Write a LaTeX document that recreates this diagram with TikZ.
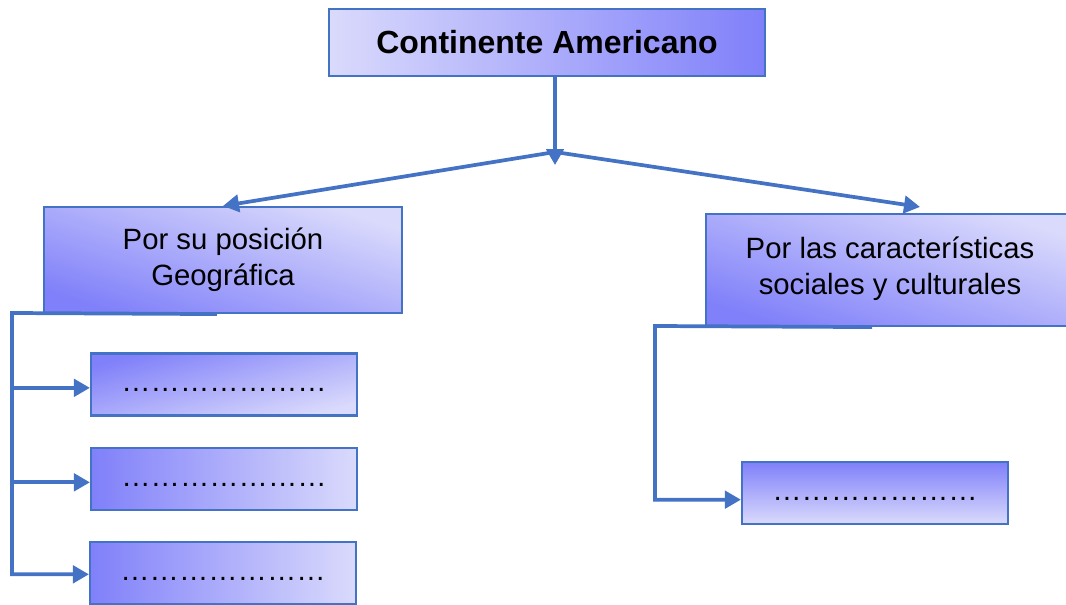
\documentclass[tikz,border=0pt]{standalone}
\usepackage{fontspec}
\setmainfont{Liberation Sans}
\usetikzlibrary{arrows.meta,calc}
\definecolor{dk}{RGB}{128,128,250}
\definecolor{lt}{RGB}{218,218,252}
\definecolor{ln}{RGB}{68,114,196}
\begin{document}
\begin{tikzpicture}[x=0.75pt,y=-0.75pt,
  box/.style={draw=ln,line width=1.6pt,inner sep=0pt,align=center,
    font=\fontsize{22}{27}\selectfont},
  small/.style={box,minimum width=199.5pt,minimum height=46.5pt},
  conn/.style={draw=ln,line width=2.8pt},
  tipped/.style={-{Triangle[length=12pt,width=13pt]}}]
\clip (0,0) rectangle (1066,604);
\node[box,minimum width=327pt,minimum height=50.25pt,left color=lt,right color=dk,
  font=\fontsize{24}{28}\selectfont\bfseries] (top) at (547,42.5) {Continente Americano};
\node[box,minimum width=268.5pt,minimum height=79.5pt,top color=lt,bottom color=dk,
  shading angle=-18] (geo) at (223,260) {Por su posición\\Geográfica};
\node[box,minimum width=276pt,minimum height=84pt,top color=lt,bottom color=dk,
  shading angle=-18] (soc) at (890,270) {Por las características\\sociales y culturales\\[-21pt]};
\node[small,top color=dk,bottom color=lt,shading angle=15] (s1) at (224,384.5) {\strut…………………};
\node[small,left color=dk,right color=lt] (s2) at (224,479) {\strut…………………};
\node[small,left color=dk,right color=lt] (s3) at (223,573) {\strut…………………};
\node[small,top color=dk,bottom color=lt] (r1) at (875,493) {\strut…………………};
% connectors
\coordinate (j) at (555,152);
\coordinate (jt) at (555,165);
\draw[conn,tipped] (top.south -| jt) -- (jt);
\draw[conn,tipped] (j) -- (geo.north);
\draw[conn,tipped] (j) -- ([xshift=22.5pt,yshift=4.5pt]soc.north);
\coordinate (lb) at (12,313);
\draw[conn,tipped] ([xshift=-4.5pt]geo.south) -- (lb) |- ([yshift=-1pt]s3.west);
\draw[conn,tipped] ([yshift=-2.5pt]lb |- s1.west) -- ([yshift=-2.5pt]s1.west);
\draw[conn,tipped] ([yshift=-2.5pt]lb |- s2.west) -- ([yshift=-2.5pt]s2.west);
\coordinate (rb) at (655,326);
\draw[conn,tipped] ([xshift=-13.5pt]soc.south) -- (rb) |- ([yshift=-5pt]r1.west);
\end{tikzpicture}
\end{document}
